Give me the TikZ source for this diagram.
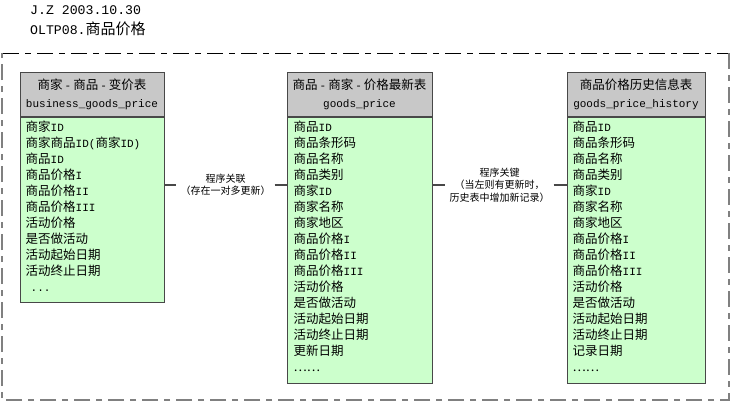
\documentclass[tikz,border=0pt]{standalone}
\usepackage{fontspec}
\usepackage{tikz}
\setmainfont{Liberation Mono}[Scale=0.88]
\newfontfamily\latinfont{Liberation Mono}[Scale=0.88]
\newfontfamily\cjkfont{Noto Sans CJK SC}
% CJK characters switch to the CJK family, Latin ones switch back
\XeTeXinterchartokenstate=1
\newXeTeXintercharclass\cjkcls
\newcount\cjkcode
\newcommand\cjkrange[2]{%
  \cjkcode=#1
  \loop
    \XeTeXcharclass\cjkcode=\cjkcls
    \advance\cjkcode by 1
  \ifnum\cjkcode<#2 \repeat}
\cjkrange{"2026}{"2027}
\cjkrange{"3000}{"3040}
\cjkrange{"4E00}{"A000}
\cjkrange{"FF00}{"FFF0}
\XeTeXinterchartoks 0 \cjkcls = {\cjkfont}
\XeTeXinterchartoks 4095 \cjkcls = {\cjkfont}
\XeTeXinterchartoks \cjkcls 0 = {\latinfont}

\definecolor{headgray}{RGB}{200, 200, 200}
\definecolor{bodygreen}{RGB}{204, 255, 204}
\definecolor{edgegray}{RGB}{72, 72, 72}
\definecolor{framegray}{RGB}{128, 128, 128}
\newcommand\tblname[1]{{\fontsize{12.5}{19}\selectfont #1}}
\newcommand\tbldash{\kern2pt{\latinfont -}\kern2pt}

\begin{document}
\begin{tikzpicture}[x=1pt, y=-1pt,
    headbox/.style={draw=edgegray, fill=headgray, line width=1pt, inner sep=0pt,
                    align=center, font=\fontsize{12.5}{18}\selectfont},
    bodybox/.style={draw=edgegray, fill=bodygreen, line width=1pt, inner sep=0pt},
    fields/.style={inner sep=0pt, align=left, font=\fontsize{12.5}{16}\selectfont},
    linklabel/.style={fill=white, inner sep=4pt, align=center, font=\fontsize{10}{12.5}\selectfont},
    link/.style={draw=edgegray, line width=1.5pt},
    framedash/.style={dash pattern=on 16pt off 6pt on 6pt off 6pt}]
            \useasboundingbox (0,0) rectangle (731,402);
            \fill[white] (0,0) rectangle (731,402);
            % frame
            \draw[framedash, black, line width=0.8pt]    (3,53) -- (729,53);
            \draw[framedash, framegray, line width=2.5pt] (729,53) -- (729,400) -- (2,400) -- (2,53);
            % title
            \node[inner sep=0pt, align=left, anchor=north west, font=\fontsize{15}{20}\selectfont] (stamp) at (30,5)
                {J.Z 2003.10.30\\OLTP08.商品价格};
            % business_goods_price
            \node[headbox, minimum width=144, minimum height=44] (bgpHead) at (92,94)
                {商家\tbldash 商品\tbldash 变价表\\\tblname{business\_goods\_price}};
            \node[bodybox, minimum width=144, minimum height=185, anchor=north] (bgpBody) at (bgpHead.south) {};
            \node[fields, anchor=north west] (bgpFields) at ([xshift=6pt, yshift=-4.5pt]bgpBody.north west)
                {商家ID\\商家商品ID(商家ID)\\商品ID\\商品价格I\\商品价格II\\商品价格III\\活动价格\\是否做活动\\活动起始日期\\活动终止日期\\\hspace*{5pt}...};
            % goods_price
            \node[headbox, minimum width=145, minimum height=44] (gpHead) at (359.5,94)
                {商品\tbldash 商家\tbldash 价格最新表\\\tblname{goods\_price}};
            \node[bodybox, minimum width=145, minimum height=266, anchor=north] (gpBody) at (gpHead.south) {};
            \node[fields, anchor=north west] (gpFields) at ([xshift=7pt, yshift=-4.5pt]gpBody.north west)
                {商品ID\\商品条形码\\商品名称\\商品类别\\商家ID\\商家名称\\商家地区\\商品价格I\\商品价格II\\商品价格III\\活动价格\\是否做活动\\活动起始日期\\活动终止日期\\更新日期\\……};
            % goods_price_history
            \node[headbox, minimum width=138, minimum height=44] (gphHead) at (636,94)
                {商品价格历史信息表\\\tblname{goods\_price\_history}};
            \node[bodybox, minimum width=138, minimum height=266, anchor=north] (gphBody) at (gphHead.south) {};
            \node[fields, anchor=north west] (gphFields) at ([xshift=6pt, yshift=-4.5pt]gphBody.north west)
                {商品ID\\商品条形码\\商品名称\\商品类别\\商家ID\\商家名称\\商家地区\\商品价格I\\商品价格II\\商品价格III\\活动价格\\是否做活动\\活动起始日期\\活动终止日期\\记录日期\\……};
            % links
            \node[linklabel] (relUpdate) at (225.5,185) {程序关联\\（存在一对多更新）};
            \node[linklabel] (relHistory) at (499.5,185) {程序关键\\（当左则有更新时，\\历史表中增加新记录）};
            \draw[link] (relUpdate.west -| bgpBody.east)  -- (relUpdate.west);
            \draw[link] (relUpdate.east)  -- (relUpdate.east -| gpBody.west);
            \draw[link] (relHistory.west -| gpBody.east)  -- (relHistory.west);
            \draw[link] (relHistory.east) -- (relHistory.east -| gphBody.west);
\end{tikzpicture}
\end{document}
